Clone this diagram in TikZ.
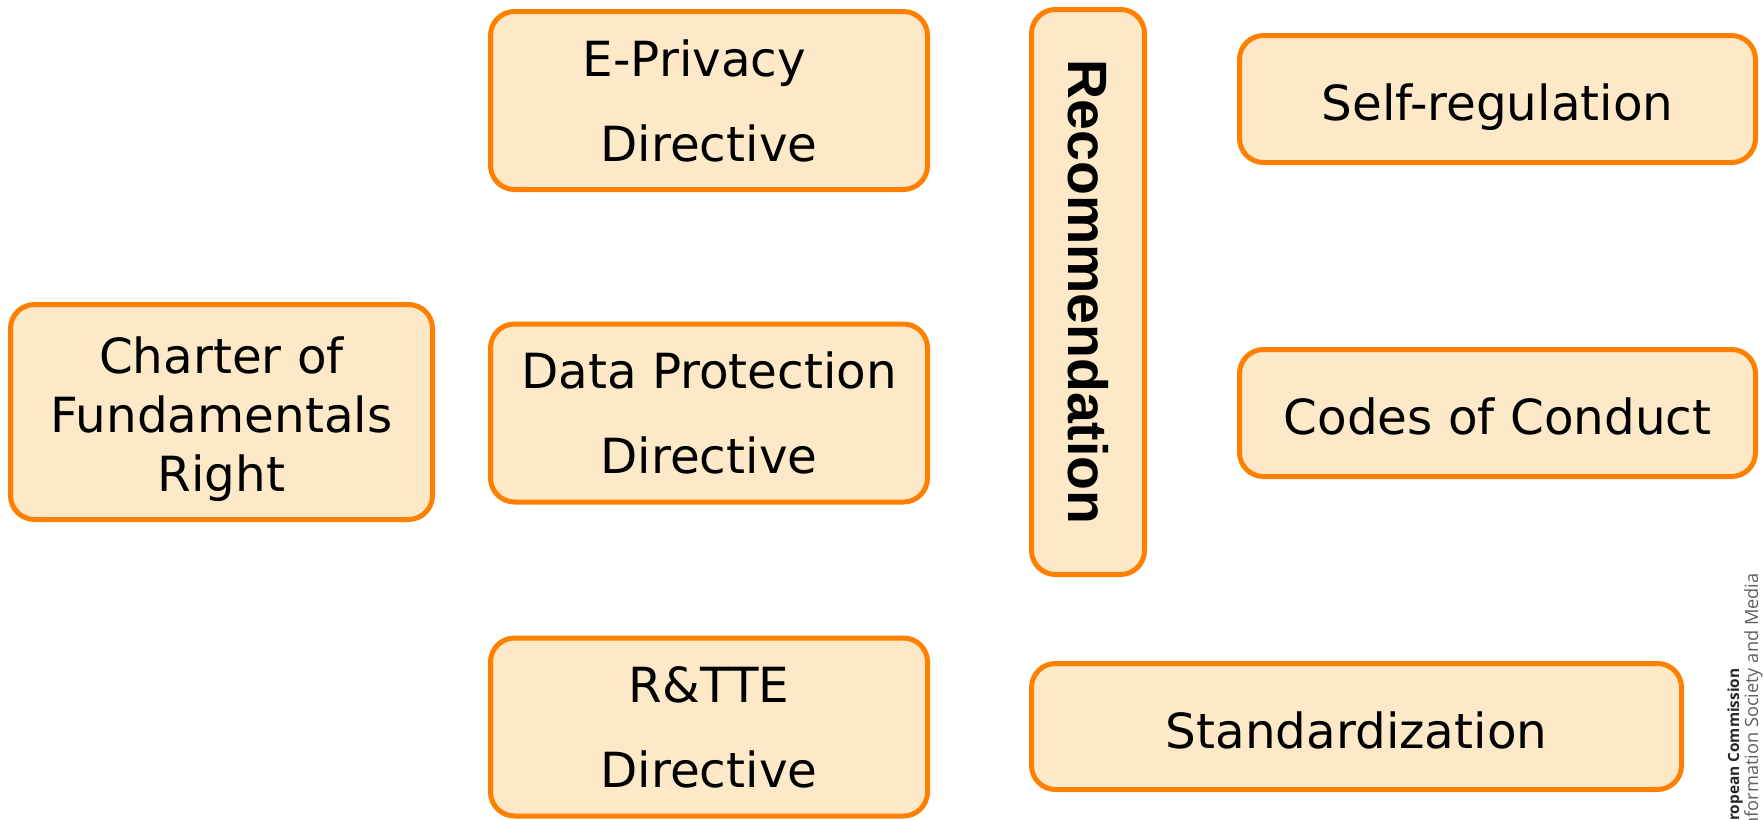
\documentclass[tikz,border=0pt]{standalone}
\usepackage{fontspec}
\setmainfont{DejaVu Sans}
\newfontfamily\recfont{Liberation Sans}
\newfontfamily\logofont{Open Sans}
\definecolor{boxfill}{RGB}{253,232,200}
\definecolor{boxline}{RGB}{255,128,0}
\definecolor{logogrey}{RGB}{95,95,95}
\begin{document}
\begin{tikzpicture}[x=0.5pt,y=-0.5pt,
  box/.style={draw=boxline, fill=boxfill, line width=2.5pt, rounded corners=12pt,
    align=center, inner sep=0pt, text=black},
  oneline/.style={font=\fontsize{24.2}{29}\selectfont, text height=21.8pt, text depth=0pt},
  widespace/.style={font=\fontsize{24.2}{42.5}\selectfont},
  charterfont/.style={font=\fontsize{24.2}{29.5}\selectfont, align=center, inner sep=0pt},
  logobold/.style={font=\logofont\bfseries\fontsize{7.7}{10}\selectfont, text=black!85, inner sep=0pt},
  logoreg/.style={font=\logofont\fontsize{9.1}{10}\selectfont, text=logogrey, inner sep=0pt}]
\useasboundingbox (0,0) rectangle (1764,819);
\clip (0,0) rectangle (1764,819);

% legal instruments column
\node[box, widespace, minimum width=218.5pt, minimum height=89pt] (eprivacy) at (709,100.5)
  {E-Privacy\hspace*{0.6em}\\Directive};
\node[box, widespace, minimum width=218.5pt, minimum height=89pt] (dataprot) at (709,413)
  {Data Protection\\Directive};
\node[box, widespace, minimum width=218.5pt, minimum height=89pt] (rtte) at (709,727)
  {R\&TTE\\Directive};

% fundamental rights
\node[box, minimum width=211pt, minimum height=107.5pt] (charter) at (221.5,412) {};
\node[charterfont, yshift=-3.5pt] (chartertext) at (charter.center)
  {Charter of\\Fundamentals\\Right};

% recommendation bar
\node[box, minimum width=56.5pt, minimum height=282.5pt] (recbox) at (1088,292) {};
\node[rotate=-90, font=\recfont\bfseries\fontsize{27.7}{32}\selectfont] (rectext) at (recbox.center) {Recommendation};

% soft-law instruments
\node[box, oneline, minimum width=258pt, minimum height=63.5pt] (selfreg) at (1497.5,99) {Self-regulation};
\node[box, oneline, minimum width=258pt, minimum height=63.5pt] (codes) at (1497.5,413) {Codes of Conduct};
\node[box, oneline, minimum width=325pt, minimum height=63pt] (standard) at (1356.5,726.5) {Standardization};

% vertical imprint
\node[logobold, rotate=90, anchor=base east] (imprint1) at (1739,668) {European Commission};
\node[logoreg, rotate=90, anchor=base east] (imprint2) at (1758,573) {Information Society and Media};
\end{tikzpicture}
\end{document}
